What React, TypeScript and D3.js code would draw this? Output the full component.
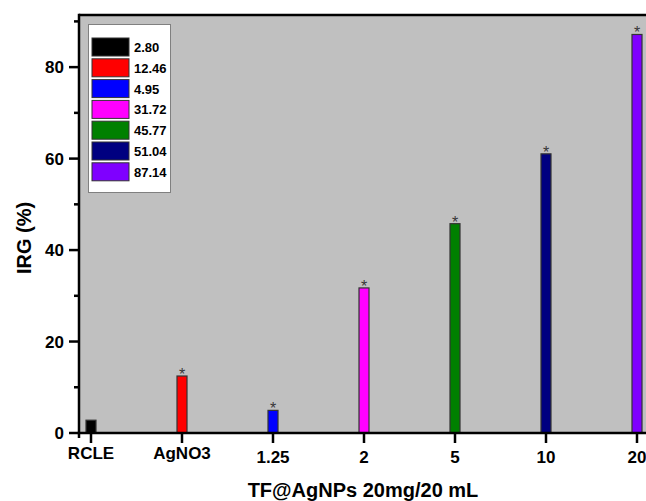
import React from "react";
import { scaleLinear, scalePoint, range } from "d3";

// categories on the x axis
const categories = ["RCLE", "AgNO3", "1.25", "2", "5", "10", "20"];
// bar heights
const barValues = [2.8, 12.46, 4.95, 31.72, 45.77, 61.04, 87.14];
// legend texts as printed in the box
const legendLabels = ["2.80", "12.46", "4.95", "31.72", "45.77", "51.04", "87.14"];
const colors = ["#000000", "#ff0000", "#0000ff", "#ff00ff", "#008000", "#000080", "#7f00ff"];
// bars with a significance star
const starred = [false, true, true, true, true, true, true];
const yTicks = [0, 20, 40, 60, 80];
const yMinor = [10, 30, 50, 70, 90];

const W = 646;
const H = 501;
const left = 79;
const top = 15;
const bottom = 433;
const right = 700;

export default function App() {
  const y = scaleLinear().domain([0, 91.4]).range([bottom, top]);
  const x = scalePoint<string>().domain(categories).range([91, 637]);
  const barW = 10;
  const font = "'Liberation Sans', Arial, Helvetica, sans-serif";

  return (
    <svg
      width={W}
      height={H}
      style={{ position: "absolute", left: 0, top: 0, fontFamily: font }}
    >
      <rect x={0} y={0} width={W} height={H} fill="#ffffff" />
      {/* plot area */}
      <rect x={left} y={top} width={right - left} height={bottom - top} fill="#c0c0c0" />

      {/* bars */}
      {categories.map((c, i) => (
        <g key={c}>
          <rect
            x={(x(c) as number) - barW / 2}
            y={y(barValues[i])}
            width={barW}
            height={bottom - y(barValues[i])}
            fill={colors[i]}
            stroke="#333333"
            strokeWidth={1.2}
          />
          {starred[i] && (
            <text
              x={x(c)}
              y={y(barValues[i]) + 4}
              textAnchor="middle"
              fontSize={16}
              fill="#383838"
            >
              *
            </text>
          )}
        </g>
      ))}

      {/* frame: top, left, bottom */}
      <line x1={left} x2={W} y1={top} y2={top} stroke="#000" strokeWidth={2.5} />
      <line x1={left} x2={left} y1={top - 1.25} y2={bottom + 5} stroke="#000" strokeWidth={2.5} />
      <line x1={left - 1.25} x2={W} y1={bottom} y2={bottom} stroke="#000" strokeWidth={2.5} />

      {/* y axis ticks */}
      {yTicks.map((t) => (
        <g key={t}>
          <line x1={left - 10} x2={left} y1={y(t)} y2={y(t)} stroke="#000" strokeWidth={2.5} />
          <text
            x={left - 15}
            y={y(t) + 6}
            textAnchor="end"
            fontSize={17}
            fontWeight="bold"
          >
            {t}
          </text>
        </g>
      ))}
      {yMinor.map((t) => (
        <line key={t} x1={left - 5} x2={left} y1={y(t)} y2={y(t)} stroke="#000" strokeWidth={2.5} />
      ))}

      {/* x axis ticks */}
      {categories.map((c, i) => (
        <g key={c}>
          <line x1={x(c)} x2={x(c)} y1={bottom} y2={bottom + 10} stroke="#000" strokeWidth={2.5} />
          <text
            x={x(c)}
            y={i < 2 ? 459 : 463}
            textAnchor="middle"
            fontSize={17}
            fontWeight="bold"
          >
            {c}
          </text>
        </g>
      ))}

      {/* axis titles */}
      <text
        transform={`translate(31,238) rotate(-90)`}
        textAnchor="middle"
        fontSize={20}
        fontWeight="bold"
      >
        IRG (%)
      </text>
      <text x={363} y={497} textAnchor="middle" fontSize={20} fontWeight="bold">
        TF@AgNPs 20mg/20 mL
      </text>

      {/* legend */}
      <rect x={88.5} y={24.5} width={82} height={168} fill="#ffffff" stroke="#808080" strokeWidth={1} />
      {range(legendLabels.length).map((i) => (
        <g key={i} transform={`translate(92,${38 + i * 20.8})`}>
          <rect width={37} height={18} fill={colors[i]} stroke="#333333" strokeWidth={1} />
          <text x={42} y={14} fontSize={13} fontWeight="bold">
            {legendLabels[i]}
          </text>
        </g>
      ))}
    </svg>
  );
}
